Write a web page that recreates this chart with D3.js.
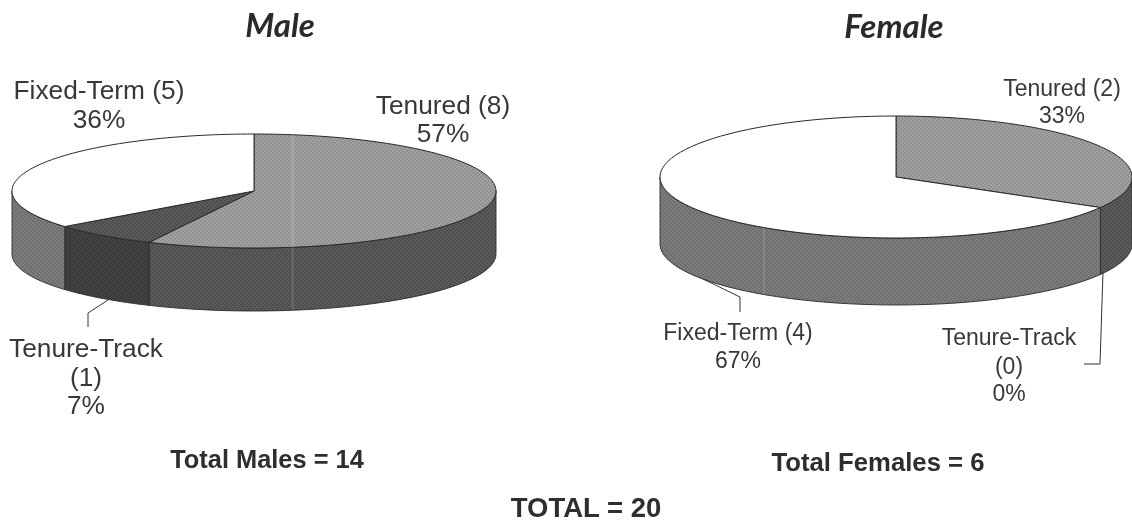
<!DOCTYPE html>
<html><head><meta charset="utf-8">
<script src="https://cdn.jsdelivr.net/npm/d3@7"></script>
<style>html,body{margin:0;padding:0;background:#fff}svg{display:block}
text{font-family:"Liberation Sans",Arial,sans-serif;fill:#383838}
.title{font-family:Lato,"Open Sans",sans-serif;font-style:italic;font-weight:700;font-size:33px;fill:#2c2c2c}
.total{font-weight:700;fill:#2e2e2e}</style>
</head><body><svg id="c" width="1132" height="523"></svg>
<script>
const categories=["Tenured","Tenure-Track","Fixed-Term"];
const maleValues=[8,1,5];
const femaleValues=[2,0,4];
const maleLabels=[["Tenured (8)","57%"],["Tenure-Track","(1)","7%"],["Fixed-Term (5)","36%"]];
const femaleLabels=[["Tenured (2)","33%"],["Tenure-Track","(0)","0%"],["Fixed-Term (4)","67%"]];
const totalLabels=["Total Males = 14","Total Females = 6","TOTAL = 20"];

const topFill={"Tenured":["#a0a0a0","#929292"],"Tenure-Track":["#5a5a5a","#505050"],"Fixed-Term":["#ffffff","#ffffff"]};
const sideFill={"Tenured":["#5a5a5a","#505050"],"Tenure-Track":["#424242","#3a3a3a"],"Fixed-Term":["#7c7c7c","#707070"]};

const svg=d3.select("#c");
const defs=svg.append("defs");
defs.append("filter").attr("id","scan").attr("x","-2%").attr("y","-2%").attr("width","104%").attr("height","104%")
  .append("feGaussianBlur").attr("stdDeviation",0.45);
function mkPat(id,c){
  const p=defs.append("pattern").attr("id",id).attr("width",4).attr("height",4).attr("patternUnits","userSpaceOnUse");
  p.append("rect").attr("width",4).attr("height",4).attr("fill",c[0]);
  p.append("rect").attr("width",2).attr("height",2).attr("fill",c[1]);
  p.append("rect").attr("x",2).attr("y",2).attr("width",2).attr("height",2).attr("fill",c[1]);
}
categories.forEach((k,i)=>{mkPat("t"+i,topFill[k]);mkPat("s"+i,sideFill[k]);});

const root=svg.append("g").attr("filter","url(#scan)");
const pie=d3.pie().sort(null).value(d=>d.v);

function drawPie(values,g,streak){
  const sx=d3.scaleLinear().domain([-1,1]).range([g.cx-g.rx,g.cx+g.rx]);
  const sy=d3.scaleLinear().domain([-1,1]).range([g.cy-g.ry,g.cy+g.ry]);
  const arcs=pie(categories.map((c,i)=>({c,i,v:values[i]}))).filter(a=>a.value>0);
  const pt=(t,dz)=>[sx(Math.sin(t)),sy(-Math.cos(t))+dz];
  const line=d3.line();
  const wall=(a,b)=>{
    const s=d3.range(0,41).map(k=>a+(b-a)*k/40);
    return line(s.map(t=>pt(t,0)).concat(s.slice().reverse().map(t=>pt(t,g.depth))))+"Z";
  };
  const wedge=(a,b)=>{
    const s=d3.range(0,81).map(k=>a+(b-a)*k/80);
    return line([[sx(0),sy(0)]].concat(s.map(t=>pt(t,0))))+"Z";
  };
  const gg=root.append("g");
  arcs.forEach(d=>{
    const a=Math.max(d.startAngle,Math.PI/2),b=Math.min(d.endAngle,Math.PI*1.5);
    if(b>a)gg.append("path").attr("d",wall(a,b)).attr("fill",`url(#s${d.data.i})`).attr("stroke","#2a2a2a").attr("stroke-width",0.9);
  });
  arcs.forEach(d=>{
    gg.append("path").attr("d",wedge(d.startAngle,d.endAngle)).attr("fill",`url(#t${d.data.i})`).attr("stroke","#2a2a2a").attr("stroke-width",1);
  });
  streak.forEach(u=>{
    const t=Math.asin(u);
    gg.append("path").attr("d",line([pt(Math.PI-t,0),pt(Math.PI-t,g.depth)])).attr("stroke","#fff").attr("stroke-opacity",0.12).attr("stroke-width",2);
    if(g.topStreak)gg.append("path").attr("d",line([pt(t,0),pt(Math.PI-t,0)])).attr("stroke","#fff").attr("stroke-opacity",0.16).attr("stroke-width",2);
  });
}
drawPie(maleValues,{cx:254,cy:191,rx:242,ry:57,depth:63,topStreak:true},[0.16]);
drawPie(femaleValues,{cx:896,cy:177,rx:236,ry:61,depth:67,topStreak:false},[-0.56]);

function label(lines,x,ys,size){
  lines.forEach((t,i)=>root.append("text").attr("x",x).attr("y",ys[i]).attr("text-anchor","middle").attr("font-size",size).text(t));
}
root.append("text").attr("class","title").attr("x",280).attr("y",37).attr("text-anchor","middle").text("Male");
root.append("text").attr("class","title").attr("x",894).attr("y",38).attr("text-anchor","middle").text("Female");
const ms=26.3,fs=23;
label(maleLabels[2],99,[99,128],ms);
label(maleLabels[0],443,[114,142],ms);
label(maleLabels[1],86,[357,386,414],ms);
label(femaleLabels[0],1062,[96,123],fs);
label(femaleLabels[2],738,[340,368],fs);
label(femaleLabels[1],1009,[345,374,401],fs);

const lead=d3.line();
[[[108,300],[88,313],[88,327]],[[703,279],[740,297],[740,312]],[[1103,272],[1100,364],[1084,364]]]
 .forEach(p=>root.append("path").attr("d",lead(p)).attr("fill","none").attr("stroke","#333").attr("stroke-width",1));

[[267,468,25.4],[878,471,25.7],[586,516.5,27.5]].forEach((p,i)=>root.append("text").attr("class","total").attr("x",p[0]).attr("y",p[1]).attr("font-size",p[2]).attr("text-anchor","middle").text(totalLabels[i]));
</script></body></html>
